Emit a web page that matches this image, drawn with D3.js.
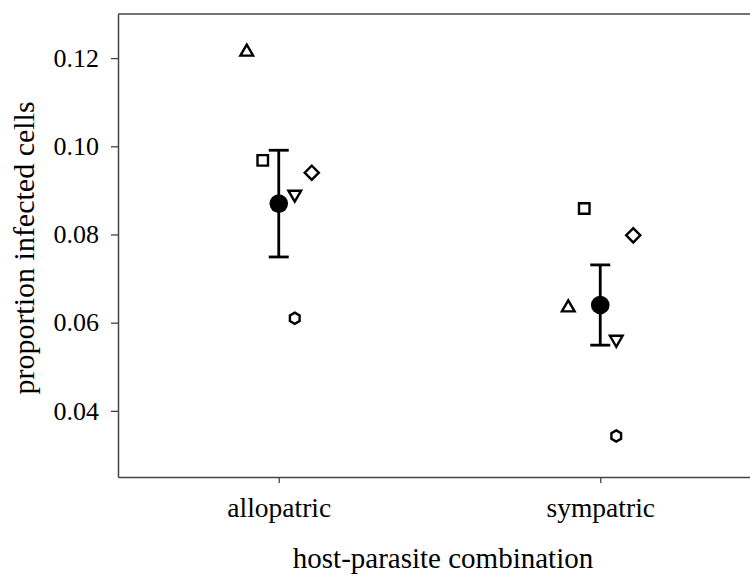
<!DOCTYPE html>
<html>
<head>
<meta charset="utf-8">
<script src="https://cdn.jsdelivr.net/npm/d3@7"></script>
<style>
  html, body { margin: 0; padding: 0; background: #fff; }
  svg { display: block; }
  text { font-family: "Liberation Serif", "Times New Roman", serif; fill: #000; }
</style>
</head>
<body>
<svg id="chart" width="750" height="575"></svg>
<script>
// ---- data ----
const categories = ["allopatric", "sympatric"];
const meanValues = [0.087, 0.064];
const errUpper = [0.0991, 0.0731];
const errLower = [0.0749, 0.0549];
const shapes = ["triangleUp", "square", "triangleDown", "diamond", "hexagon"];
const allopatricValues = [0.1214, 0.0968, 0.0891, 0.0940, 0.0610];
const sympatricValues = [0.0634, 0.0859, 0.0562, 0.0798, 0.0343];
const yTicks = [0.04, 0.06, 0.08, 0.10, 0.12];
const xTitle = "host-parasite combination";
const yTitle = "proportion infected cells";

// ---- layout ----
const svg = d3.select("#chart");
const plotLeft = 118, plotRight = 761, plotTop = 14, plotBottom = 477;

const x = d3.scalePoint().domain(categories).range([plotLeft, plotRight]).padding(0.5);
const y = d3.scaleLinear().domain([0.025, 0.13]).range([plotBottom, plotTop]);
const jitter = d3.scaleOrdinal().domain(shapes).range([-32, -16, 16, 33, 16]);

// frame
const frameColor = "#444";
svg.append("line").attr("x1", plotLeft).attr("x2", plotRight).attr("y1", plotTop).attr("y2", plotTop)
  .attr("stroke", frameColor).attr("stroke-width", 1.5);

// y axis
const yAxis = svg.append("g").attr("transform", `translate(${plotLeft},0)`)
  .call(d3.axisLeft(y).tickValues(yTicks).tickFormat(d3.format(".2f"))
    .tickSizeInner(7).tickSizeOuter(0).tickPadding(12));
yAxis.select(".domain").attr("stroke", frameColor).attr("stroke-width", 1.5);
yAxis.selectAll(".tick line").attr("stroke", frameColor).attr("stroke-width", 1.3);
yAxis.selectAll(".tick text").style("font-family", "Liberation Serif").style("font-size", "26px");

// x axis
const xAxis = svg.append("g").attr("transform", `translate(0,${plotBottom})`)
  .call(d3.axisBottom(x).tickSizeInner(6).tickSizeOuter(0).tickPadding(14));
xAxis.select(".domain").attr("stroke", frameColor).attr("stroke-width", 1.5);
xAxis.selectAll(".tick line").attr("stroke", frameColor).attr("stroke-width", 1.3);
xAxis.selectAll(".tick text").style("font-family", "Liberation Serif").style("font-size", "27.5px");

// titles
svg.append("text").attr("x", 443).attr("y", 568).attr("text-anchor", "middle")
  .style("font-size", "29px").text(xTitle);
svg.append("text").attr("transform", `translate(34,248) rotate(-90)`).attr("text-anchor", "middle")
  .style("font-size", "30px").text(yTitle);

// marker paths
function shapePath(s) {
  if (s === "triangleUp") return d3.symbol(d3.symbolTriangle, 70)();
  if (s === "triangleDown") return d3.symbol(d3.symbolTriangle, 70)();
  if (s === "square") return d3.symbol(d3.symbolSquare, 110)();
  if (s === "diamond") return d3.symbol(d3.symbolSquare, 100)();
  // hexagon, pointy top
  const r = 5.6;
  const pts = d3.range(6).map(i => {
    const a = Math.PI / 3 * i - Math.PI / 2;
    return [r * Math.cos(a), r * Math.sin(a)];
  });
  return d3.line()(pts) + "Z";
}
function shapeRotate(s) {
  if (s === "triangleDown") return 180;
  if (s === "diamond") return 45;
  return 0;
}

const seriesByCat = [allopatricValues, sympatricValues];
const points = [];
categories.forEach((c, ci) => {
  shapes.forEach((s, si) => points.push({ cat: c, shape: s, value: seriesByCat[ci][si] }));
});

svg.append("g").selectAll("path").data(points).join("path")
  .attr("d", d => shapePath(d.shape))
  .attr("transform", d => `translate(${x(d.cat) + jitter(d.shape)},${y(d.value)}) rotate(${shapeRotate(d.shape)})`)
  .attr("fill", "none").attr("stroke", "#000").attr("stroke-width", 2.4)
  .attr("stroke-linejoin", "miter");

// error bars and means
const summary = categories.map((c, i) => ({ cat: c, mean: meanValues[i], hi: errUpper[i], lo: errLower[i] }));
const eb = svg.append("g").attr("stroke", "#000").attr("stroke-width", 2.8);
eb.selectAll(".v").data(summary).join("line").attr("class", "v")
  .attr("x1", d => x(d.cat)).attr("x2", d => x(d.cat))
  .attr("y1", d => y(d.hi)).attr("y2", d => y(d.lo));
eb.selectAll(".ct").data(summary).join("line").attr("class", "ct")
  .attr("x1", d => x(d.cat) - 10).attr("x2", d => x(d.cat) + 10)
  .attr("y1", d => y(d.hi)).attr("y2", d => y(d.hi));
eb.selectAll(".cb").data(summary).join("line").attr("class", "cb")
  .attr("x1", d => x(d.cat) - 10).attr("x2", d => x(d.cat) + 10)
  .attr("y1", d => y(d.lo)).attr("y2", d => y(d.lo));
svg.append("g").selectAll("circle").data(summary).join("circle")
  .attr("cx", d => x(d.cat)).attr("cy", d => y(d.mean)).attr("r", 9.3).attr("fill", "#000");
</script>
</body>
</html>
